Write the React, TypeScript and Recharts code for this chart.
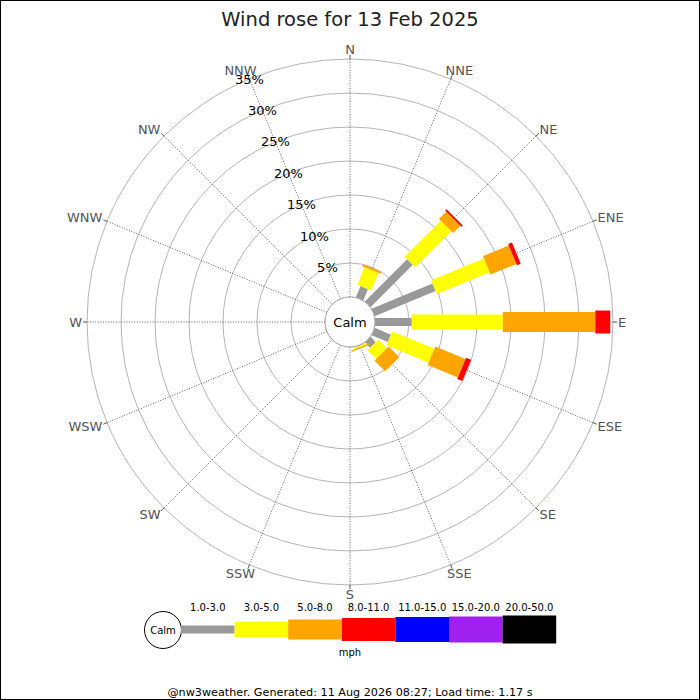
import React from 'react';
import {
  RadialBarChart,
  RadialBar,
  PolarGrid,
  PolarAngleAxis,
  PolarRadiusAxis,
} from 'recharts';

// compass points, clockwise from north
const directions = ['N', 'NNE', 'NE', 'ENE', 'E', 'ESE', 'SE', 'SSE', 'S', 'SSW', 'SW', 'WSW', 'W', 'WNW', 'NW', 'NNW'];
const speedBands = ['1.0-3.0', '3.0-5.0', '5.0-8.0', '8.0-11.0', '11.0-15.0', '15.0-20.0', '20.0-50.0'];

// % of the day, per direction, one list per speed band (mph)
const mph1to3 = [0, 1.8, 8.8, 9.7, 5.4, 2.6, 1.1, 0.1, 0, 0, 0, 0, 0, 0, 0, 0];
const mph3to5 = [0, 2.8, 7.5, 8.4, 13.4, 6.7, 1.8, 0.2, 0, 0, 0, 0, 0, 0, 0, 0];
const mph5to8 = [0, 0.3, 1.5, 4.1, 13.6, 4.8, 2.2, 0.2, 0, 0, 0, 0, 0, 0, 0, 0];
const mph8to11 = [0, 0, 0.3, 0.6, 2.2, 0.8, 0, 0, 0, 0, 0, 0, 0, 0, 0, 0];
const mph11to15 = [0, 0, 0, 0, 0, 0, 0, 0, 0, 0, 0, 0, 0, 0, 0, 0];
const mph15to20 = [0, 0, 0, 0, 0, 0, 0, 0, 0, 0, 0, 0, 0, 0, 0, 0];
const mph20to50 = [0, 0, 0, 0, 0, 0, 0, 0, 0, 0, 0, 0, 0, 0, 0, 0];

const percentTicks = [5, 10, 15, 20, 25, 30, 35];

const bandSeries = [mph1to3, mph3to5, mph5to8, mph8to11, mph11to15, mph15to20, mph20to50];
const bandColors = ['#999999', '#ffff00', '#ffa500', '#ff0000', '#0000ff', '#a020f0', '#000000'];
const bandWidths = [8, 15, 20, 23, 25, 26, 28];

const rows = directions.map((dir, i) => {
  const row: Record<string, string | number> = { dir };
  bandSeries.forEach((s, b) => {
    row['b' + b] = s[i];
  });
  return row;
});

const CX = 350;
const CY = 322;
const INNER = 25;
const OUTER = 263;
const RAD = Math.PI / 180;
const STEP = 360 / directions.length;
// recharts puts the bar in the band after the tick, so start half a band early
const START = 90 - STEP / 2;
const FONT = '"DejaVu Sans", sans-serif';
const spokeAngles = directions.map((_, i) => 90 - i * STEP);

// straight block along the sector's mid angle instead of a wedge
const makeBlock = (width: number, color: string) => (props: any) => {
  const { cx, cy, innerRadius, outerRadius, startAngle, endAngle } = props;
  if (!(outerRadius - innerRadius > 0.05)) return <g />;
  const mid = (startAngle + endAngle) / 2;
  const ux = Math.cos(mid * RAD);
  const uy = -Math.sin(mid * RAD);
  const px = -uy * (width / 2);
  const py = ux * (width / 2);
  const ix = cx + innerRadius * ux;
  const iy = cy + innerRadius * uy;
  const ox = cx + outerRadius * ux;
  const oy = cy + outerRadius * uy;
  const pts = [
    [ix + px, iy + py],
    [ox + px, oy + py],
    [ox - px, oy - py],
    [ix - px, iy - py],
  ]
    .map((p) => p.join(','))
    .join(' ');
  return <polygon points={pts} fill={color} />;
};

const DirectionTick = (props: any) => {
  const { cx, cy, radius, payload } = props;
  const angle = payload.coordinate + STEP / 2;
  const c = Math.cos(angle * RAD);
  const s = Math.sin(angle * RAD);
  const r = radius + 5;
  const near = Math.abs(c) < 0.5;
  let x = cx + r * c;
  const y = cy - r * s;
  if (near) x += c * 18;
  const anchor = near ? 'middle' : c > 0 ? 'start' : 'end';
  return (
    <g>
      <line
        x1={cx + radius * c}
        y1={cy - radius * s}
        x2={cx + (radius + 4) * c}
        y2={cy - (radius + 4) * s}
        stroke="#555"
      />
      <text x={x} y={y + 4.5 * (1 - s)} textAnchor={anchor} fontSize={13} fill="#555" fontFamily={FONT}>
        {payload.value}
      </text>
    </g>
  );
};

const PercentTick = (props: any) => {
  const { x, y, payload } = props;
  if (!payload.value) return <g />;
  return (
    <text x={x} y={y + 4.5} textAnchor="middle" fontSize={13} fill="#000" fontFamily={FONT}>
      {payload.value}%
    </text>
  );
};

const LEG_X = 181;
const LEG_W = 53.6;
const LEG_Y = 629.5;

export default function App() {
  return (
    <div style={{ position: 'absolute', left: 0, top: 0, width: 700, height: 700, background: '#fff' }}>
      <RadialBarChart
        width={700}
        height={700}
        data={rows}
        cx={CX}
        cy={CY}
        innerRadius={INNER}
        outerRadius={OUTER}
        startAngle={START}
        endAngle={START - 360}
        layout="centric"
        margin={{ top: 0, right: 0, bottom: 0, left: 0 }}
      >
        <PolarGrid gridType="circle" radialLines={false} stroke="#b4b4b4" strokeWidth={1} />
        <PolarGrid
          gridType="circle"
          polarAngles={spokeAngles}
          polarRadius={[INNER]}
          stroke="#3a3a3a"
          strokeWidth={0.8}
          strokeDasharray="1 1.6"
        />
        <PolarAngleAxis
          type="category"
          dataKey="dir"
          axisLine={false}
          tickLine={false}
          tick={<DirectionTick />}
        />
        <PolarRadiusAxis
          type="number"
          angle={112.5}
          domain={[0, 35]}
          ticks={percentTicks}
          tickCount={8}
          axisLine={false}
          tickLine={false}
          tick={<PercentTick />}
        />
        {speedBands.map((band, b) => (
          <RadialBar
            key={band}
            dataKey={'b' + b}
            name={band}
            stackId="wind"
            fill={bandColors[b]}
            shape={makeBlock(bandWidths[b], bandColors[b])}
            isAnimationActive={false}
          />
        ))}
      </RadialBarChart>

      <svg
        width={700}
        height={700}
        style={{ position: 'absolute', left: 0, top: 0, pointerEvents: 'none' }}
        fontFamily={FONT}
      >
        <rect x={0.5} y={0.5} width={699} height={699} fill="none" stroke="#000" />
        <text x={350} y={26} textAnchor="middle" fontSize={19.5} fill="#222">
          Wind rose for 13 Feb 2025
        </text>
        <circle cx={CX} cy={CY} r={INNER} fill="#fff" stroke="#aaa" />
        <text x={CX} y={CY + 4.5} textAnchor="middle" fontSize={13} fill="#000">
          Calm
        </text>

        {/* legend */}
        <circle cx={163} cy={630} r={18.5} fill="#fff" stroke="#000" />
        <text x={163} y={633.5} textAnchor="middle" fontSize={10} fill="#000">
          Calm
        </text>
        {speedBands.map((band, b) => (
          <g key={band}>
            <rect
              x={LEG_X + b * LEG_W}
              y={LEG_Y - bandWidths[b] / 2}
              width={LEG_W}
              height={bandWidths[b]}
              fill={bandColors[b]}
            />
            <text x={LEG_X + (b + 0.5) * LEG_W} y={611} textAnchor="middle" fontSize={10} fill="#000">
              {band}
            </text>
          </g>
        ))}
        <text x={350} y={656} textAnchor="middle" fontSize={10} fill="#000">
          mph
        </text>
        <text x={350} y={696} textAnchor="middle" fontSize={11.2} fill="#000">
          @nw3weather. Generated: 11 Aug 2026 08:27; Load time: 1.17 s
        </text>
      </svg>
    </div>
  );
}
